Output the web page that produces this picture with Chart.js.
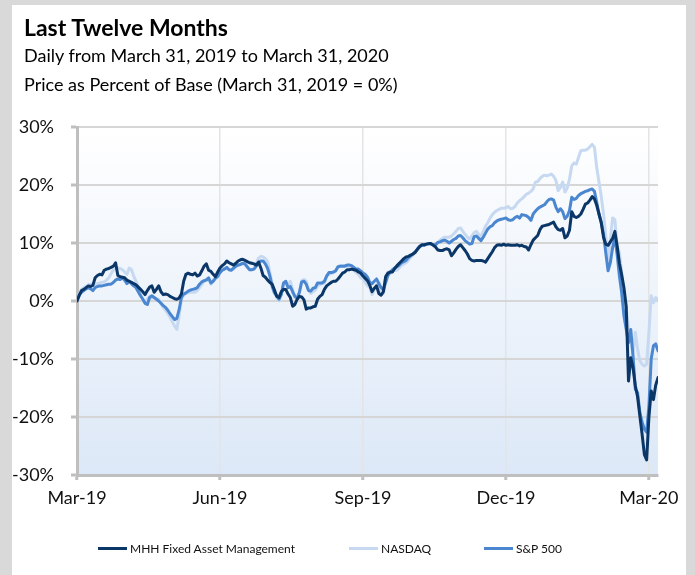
<!DOCTYPE html>
<html>
<head>
<meta charset="utf-8">
<script src="https://cdn.jsdelivr.net/npm/chart.js@4.4.1/dist/chart.umd.min.js"></script>
<style>
  html, body { margin: 0; padding: 0; }
  body { width: 695px; height: 575px; overflow: hidden; position: relative; background: #d9d9d9; font-family: Lato, "Liberation Sans", sans-serif; }
  #panel { position: absolute; left: 12px; top: 5px; width: 674px; height: 570px; background: #ffffff; }
  #chart { position: absolute; left: 0; top: 0; }
  .t { position: absolute; left: 24px; white-space: nowrap; color: #000; line-height: 1.2; }
  #title { top: 14px; font-size: 23px; font-weight: bold; }
  #sub1 { top: 45px; font-size: 18px; }
  #sub2 { top: 74px; font-size: 18px; }
  .lg { position: absolute; top: 541px; height: 14px; display: flex; align-items: center; font-size: 12px; color: #111; white-space: nowrap; }
  .ln { display: inline-block; width: 29px; height: 3px; margin-right: 3px; }
</style>
</head>
<body>
<div id="panel"></div>
<canvas id="chart" width="695" height="575"></canvas>
<div class="t" id="title">Last Twelve Months</div>
<div class="t" id="sub1">Daily from March 31, 2019 to March 31, 2020</div>
<div class="t" id="sub2">Price as Percent of Base (March 31, 2019 = 0%)</div>
<div class="lg" style="left:98px"><span class="ln" style="background:#0b3668"></span>MHH Fixed Asset Management</div>
<div class="lg" style="left:349px"><span class="ln" style="background:#c6d9f1"></span>NASDAQ</div>
<div class="lg" style="left:484px"><span class="ln" style="background:#4a87d0"></span>S&amp;P 500</div>
<script>
// ---- data (percent change vs. March 31, 2019, one value per trading day) ----
const seriesNames = ['MHH Fixed Asset Management', 'NASDAQ', 'S&P 500'];
const xTickLabels = ['Mar-19', 'Jun-19', 'Sep-19', 'Dec-19', 'Mar-20'];
const daysPerQuarter = 63;
const yTicks = [-30, -20, -10, 0, 10, 20, 30];

const MHH = [
  0.0, 1.0, 1.8, 2.0, 2.3, 2.6, 2.5, 2.7, 4.0, 4.4,
  4.6, 4.5, 5.3, 5.5, 5.6, 5.8, 6.0, 6.6, 4.4, 4.2,
  4.1, 4.0, 3.6, 3.4, 3.2, 3.0, 2.8, 2.4, 2.0, 1.6,
  1.1, 1.8, 2.4, 2.6, 1.5, 2.0, 2.6, 1.6, 1.1, 1.2,
  1.1, 0.8, 0.6, 0.4, 0.3, 0.5, 1.2, 3.4, 4.6, 4.8,
  4.6, 4.5, 4.8, 4.3, 4.5, 5.2, 6.0, 6.4, 5.3, 5.1,
  4.6, 4.2, 5.0, 5.7, 6.1, 6.4,
  6.9, 6.6, 6.4, 6.2, 6.5, 6.9, 7.1, 7.2, 7.0, 6.8,
  6.6, 6.5, 6.4, 6.2, 6.7, 5.7, 4.4, 4.1, 3.6, 3.2,
  2.9, 1.9, 0.8, 0.6, 1.6, 2.0, 2.0, 1.2, 0.6, -0.9,
  -0.6, 0.3, 0.8, 0.7, 0.2, -1.4, -1.2, -1.2, -1.0, -0.9,
  0.3, 0.8, 1.1, 2.0, 2.6, 2.9, 3.2, 3.4, 3.4, 3.8,
  4.3, 4.8, 5.0, 5.4, 5.4, 5.5, 5.4, 5.3, 5.0, 4.8,
  4.3, 3.9, 3.5, 2.7, 1.6, 2.2, 2.6, 1.3, 1.0, 1.6,
  4.2, 4.8, 5.0, 5.0, 5.6, 6.1, 6.5, 6.9, 7.3, 7.6,
  7.7, 7.9, 8.1, 8.4, 8.9, 9.4, 9.7, 9.7, 9.8, 9.9,
  9.9, 9.6, 9.3, 8.8, 8.7, 8.7, 8.9, 9.0, 8.8, 7.8,
  8.3, 8.9, 9.4, 9.7, 9.2, 8.7, 8.1, 7.3, 7.0, 6.9,
  7.0, 7.0, 7.0, 6.9, 6.7, 7.3, 7.9, 8.5, 9.2, 9.6,
  9.7, 9.6,
  9.8, 9.6, 9.7, 9.6, 9.6, 9.6, 9.7, 9.5, 9.6, 9.4,
  9.3, 8.8, 9.7, 10.5, 10.9, 11.3, 12.3, 12.9, 13.0, 13.1,
  13.2, 13.4, 13.6, 12.8, 12.3, 12.2, 12.5, 10.9, 11.2, 12.2,
  15.4, 14.6, 14.4, 14.6, 15.0, 15.8, 16.7, 16.9, 17.4, 18.0,
  17.6, 16.5, 15.0,
  13.5, 11.0, 9.8, 9.6, 10.2, 10.8, 12.0, 9.5, 6.5, 4.5,
  2.3, -1.0, -13.8, -9.8, -11.5, -14.6, -16.5, -19.8, -23.0, -26.5,
  -27.4, -20.0, -15.5, -17.0, -14.5, -13.2
];

const NASDAQ = [
  0.0, 1.2, 2.0, 2.3, 2.5, 2.8, 2.9, 2.9, 2.9, 3.0,
  3.1, 3.2, 3.3, 3.6, 4.0, 4.7, 5.4, 5.6, 5.7, 5.6,
  5.4, 5.0, 4.6, 5.7, 5.4, 4.3, 3.4, 2.4, 1.2, 0.3,
  -0.3, 0.3, 0.8, 0.5, 0.6, 0.4, 0.3, -0.5, -1.1, -1.6,
  -2.2, -2.8, -3.6, -4.3, -4.9, -2.5, 0.4, 1.0, 1.3, 1.4,
  1.5, 1.5, 1.5, 1.8, 2.3, 2.9, 3.4, 3.8, 3.7, 2.9,
  3.6, 4.0, 4.4, 5.0, 5.4, 5.7,
  5.6, 5.5, 5.3, 5.5, 6.0, 6.2, 6.3, 6.5, 6.3, 5.8,
  5.4, 5.4, 5.6, 6.5, 7.4, 7.7, 7.6, 7.3, 6.8, 4.9,
  3.0, 1.7, 0.6, 0.0, 1.1, 3.0, 3.2, 2.7, 3.4, 2.0,
  0.6, 0.5, 1.4, 3.5, 3.7, 3.4, 2.0, 1.3, 1.6, 1.9,
  2.6, 2.8, 3.0, 3.1, 4.3, 4.6, 4.7, 4.9, 5.3, 5.9,
  6.1, 6.1, 6.1, 6.0, 5.9, 5.7, 5.3, 4.9, 4.6, 4.0,
  3.8, 3.2, 2.6, 2.4, 1.1, 2.0, 2.8, 3.2, 1.6, 1.3,
  3.4, 5.0, 4.7, 5.1, 5.3, 5.3, 5.7, 6.2, 6.4, 6.6,
  7.0, 7.5, 7.9, 8.4, 8.9, 9.4, 9.7, 9.9, 9.9, 9.8,
  9.8, 9.7, 9.6, 10.1, 10.5, 10.8, 11.0, 11.0, 11.0, 11.2,
  11.6, 12.0, 12.5, 12.6, 12.0, 11.5, 11.0, 10.7, 11.2, 11.8,
  12.0, 11.5, 11.1, 12.0, 12.9, 13.5, 14.3, 14.9, 15.3, 15.6,
  15.8, 16.0,
  16.0, 16.1, 16.3, 15.9, 16.0, 16.3, 16.9, 17.3, 17.6, 18.0,
  18.4, 18.6, 18.9, 19.3, 20.5, 20.6, 21.1, 21.5, 21.7, 21.6,
  21.7, 21.9, 21.5, 20.8, 19.0, 19.6, 20.5, 18.8, 19.5, 21.0,
  23.3, 23.8, 23.6, 24.8, 25.9, 26.0, 26.0, 26.2, 26.6, 27.0,
  26.5, 23.0, 20.5,
  18.0, 15.0, 11.2, 6.6, 10.6, 14.3, 14.0, 9.5, 8.3, 4.9,
  0.9, -1.1, -4.9, -7.2, -8.9, -5.4, -8.3, -10.3, -10.9, -11.2,
  -10.9, -5.4, 0.9, -0.3, 0.6, 0.0
];

const SP500 = [
  0.0, 1.0, 1.5, 1.8, 2.1, 2.3, 2.1, 1.8, 2.3, 2.5,
  2.6, 2.6, 2.7, 2.8, 2.9, 2.9, 3.2, 3.6, 3.8, 3.7,
  4.0, 3.6, 3.0, 3.4, 3.0, 2.6, 2.3, 1.6, 0.9, 0.3,
  -0.4, -0.6, 0.6, 0.9, 0.6, 0.3, 0.0, -0.4, -0.8, -1.1,
  -1.6, -2.2, -2.7, -3.2, -3.0, -1.5, 0.6, 1.2, 1.4, 1.7,
  1.9, 2.0, 2.1, 2.3, 2.9, 3.3, 3.5, 3.6, 4.0, 3.1,
  3.4, 3.9, 4.2, 4.9, 5.3, 5.5,
  5.8, 5.4, 5.3, 5.7, 6.0, 6.2, 6.3, 6.5, 6.4, 5.9,
  5.4, 5.4, 5.5, 6.0, 6.6, 6.9, 6.9, 6.4, 5.6, 4.3,
  2.5, 1.4, 0.9, 0.3, 1.1, 3.1, 3.4, 2.3, 2.5, 1.6,
  0.8, 0.5, 1.5, 3.3, 3.4, 2.9, 1.8, 1.7, 2.2, 2.3,
  3.1, 3.1, 3.1, 3.4, 4.3, 4.9, 4.9, 5.0, 5.2, 5.9,
  6.0, 6.0, 6.0, 6.2, 6.2, 6.1, 5.8, 5.5, 5.5, 5.2,
  4.8, 4.6, 4.1, 3.2, 3.0, 3.4, 3.8, 3.0, 2.3, 2.0,
  3.2, 4.4, 5.0, 5.4, 5.7, 5.9, 6.2, 6.6, 6.8, 7.0,
  7.5, 7.8, 8.1, 8.4, 9.0, 9.4, 9.6, 9.6, 9.8, 9.9,
  9.8, 9.7, 9.7, 10.1, 10.2, 10.4, 10.5, 10.3, 10.0, 10.3,
  10.6, 10.8, 11.2, 11.3, 10.9, 10.4, 10.1, 9.8, 9.9, 11.1,
  11.2, 10.8, 10.4, 11.0, 11.7, 12.4, 12.8, 13.0, 13.5, 13.8,
  14.0, 14.1,
  14.2, 14.3, 14.0, 13.9, 14.0, 14.4, 14.6, 14.3, 14.9, 14.8,
  14.7, 14.4, 13.9, 15.0, 15.5, 15.9, 16.2, 16.4, 16.6, 17.1,
  17.5, 17.6, 17.4, 16.2, 15.4, 15.9, 15.4, 14.2, 14.6, 15.6,
  17.9, 17.5, 17.7, 18.2, 18.5, 18.7, 18.9, 19.0, 19.2, 19.3,
  18.9, 17.0, 15.0,
  13.5, 11.5, 8.3, 5.2, 6.6, 9.2, 10.9, 8.0, 4.3, 1.4,
  -2.6, -4.9, -7.2, -4.9, -9.5, -15.2, -15.8, -19.2, -20.9, -22.1,
  -22.6, -18.1, -10.0, -7.7, -7.4, -8.6
];

// ---- chart ----
const dayIndex = MHH.map((_, i) => i);
const FONT = 'Lato, "Liberation Sans", sans-serif';

const plotBackground = {
  id: 'plotBackground',
  beforeDraw(chart) {
    const { ctx, chartArea: a } = chart;
    const g = ctx.createLinearGradient(0, a.top, 0, a.bottom);
    g.addColorStop(0, '#ffffff');
    g.addColorStop(1, '#dce8f7');
    ctx.save();
    ctx.fillStyle = g;
    ctx.fillRect(a.left, a.top, a.right - a.left, a.bottom - a.top);
    ctx.restore();
  }
};

new Chart(document.getElementById('chart'), {
  type: 'line',
  data: {
    labels: dayIndex,
    datasets: [
      { label: seriesNames[0], data: MHH, borderColor: '#0b3668', backgroundColor: '#0b3668', borderWidth: 3, order: 0 },
      { label: seriesNames[1], data: NASDAQ, borderColor: '#c6d9f1', backgroundColor: '#c6d9f1', borderWidth: 3, order: 2 },
      { label: seriesNames[2], data: SP500, borderColor: '#4a87d0', backgroundColor: '#4a87d0', borderWidth: 3, order: 1 }
    ]
  },
  options: {
    responsive: false,
    animation: false,
    devicePixelRatio: 1,
    layout: { padding: { left: 2, right: 37, top: 127, bottom: 60 } },
    elements: {
      point: { radius: 0, hoverRadius: 0 },
      line: { tension: 0, borderJoinStyle: 'round', borderCapStyle: 'round', fill: false }
    },
    plugins: {
      legend: { display: false },
      title: { display: false },
      tooltip: { enabled: false }
    },
    scales: {
      x: {
        type: 'linear',
        min: 0,
        max: MHH.length - 1,
        afterFit(s) { s.height = 40; },
        ticks: {
          stepSize: daysPerQuarter,
          includeBounds: false,
          autoSkip: false,
          maxRotation: 0,
          padding: 7,
          color: '#111',
          font: { family: FONT, size: 18 },
          callback: (v) => {
            const k = Math.round(v / daysPerQuarter);
            return (k * daysPerQuarter === v && xTickLabels[k] !== undefined) ? xTickLabels[k] : null;
          }
        },
        grid: { color: '#e4e4e4', lineWidth: 1.5, drawTicks: true, tickLength: 5, tickColor: '#bfbfbf', tickWidth: 3 },
        border: { display: true, color: '#bfbfbf', width: 3 }
      },
      y: {
        min: yTicks[0],
        max: yTicks[yTicks.length - 1],
        afterFit(s) { s.width = 75; },
        ticks: {
          stepSize: 10,
          padding: 17,
          color: '#111',
          font: { family: FONT, size: 18 },
          callback: (v) => v + '%'
        },
        grid: { color: '#d6d6d6', lineWidth: 2, drawTicks: true, tickLength: 6, tickColor: '#bfbfbf', tickWidth: 3 },
        border: { display: true, color: '#bfbfbf', width: 3 }
      }
    }
  },
  plugins: [plotBackground]
});
</script>
</body>
</html>
